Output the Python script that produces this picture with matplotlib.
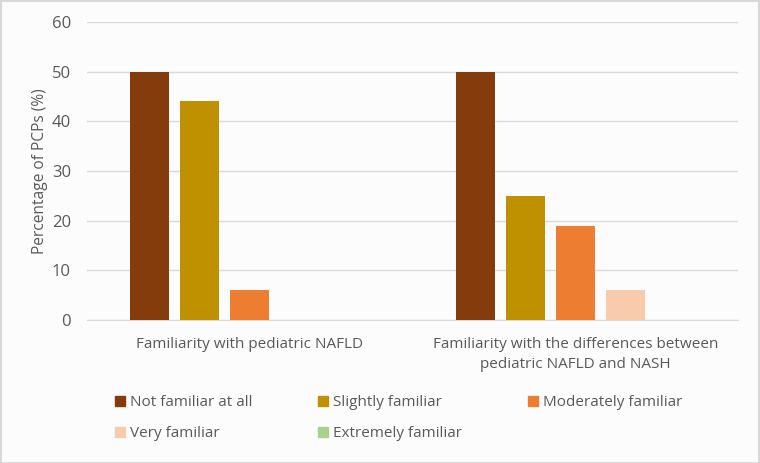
import matplotlib
matplotlib.use("Agg")
import matplotlib.pyplot as plt
import numpy as np
from matplotlib.patches import Patch

# data
categories = ["Familiarity with pediatric NAFLD",
              "Familiarity with the differences between\npediatric NAFLD and NASH"]
levels = ["Not familiar at all", "Slightly familiar", "Moderately familiar",
          "Very familiar", "Extremely familiar"]
not_familiar = [50, 50]
slightly = [44, 25]
moderately = [6, 19]
very = [0, 6]
extremely = [0, 0]
colors = ["#843C0C", "#BF9000", "#ED7D31", "#F8CBAD", "#A9D18E"]

series = [not_familiar, slightly, moderately, very, extremely]

plt.rcParams['font.family'] = ['Open Sans', 'DejaVu Sans']
txt = "#595959"

fig = plt.figure(figsize=(7.6, 4.63), dpi=100, facecolor="#FCFCFC")
ax = fig.add_axes([87 / 760, 1 - 320 / 463, 651 / 760, 298 / 463])
ax.set_facecolor("none")

x = np.arange(len(categories))
step = 50 / 325.5
width = 39 / 325.5
for i, (vals, c) in enumerate(zip(series, colors)):
    ax.bar(x + (i - 2) * step, vals, width, color=c, label=levels[i], zorder=3)

ax.set_xlim(-0.5, 1.5)
ax.set_ylim(0, 60)
ax.set_yticks(range(0, 61, 10))
ax.yaxis.grid(True, color="#D9D9D9", linewidth=1, zorder=0)
for s in ["top", "right", "left"]:
    ax.spines[s].set_visible(False)
ax.spines["bottom"].set_color("#D9D9D9")
ax.tick_params(axis="y", length=0, labelsize=12, labelcolor=txt, pad=11.5)
ax.tick_params(axis="x", length=0, labelsize=11, labelcolor=txt, pad=12)
ax.set_xticks(x)
ax.set_xticklabels(categories, linespacing=1.5)
ax.set_ylabel("Percentage of PCPs (%)", fontsize=11.2, color=txt, labelpad=3)

# legend, row-major order like the original
order = [0, 3, 1, 4, 2]
handles = [Patch(color=colors[i]) for i in order]
labels = [levels[i] for i in order]
fig.legend(handles, labels, loc="upper left", bbox_to_anchor=(115 / 760, 1 - 395 / 463),
           ncol=3, frameon=False, fontsize=11, labelcolor=txt,
           borderpad=0, borderaxespad=0,
           handlelength=0.65, handleheight=0.65, handletextpad=0.3,
           columnspacing=4.35, labelspacing=1.05)

fig.patches.append(plt.Rectangle((0.001, 0.001), 0.998, 0.997, transform=fig.transFigure,
                                 fill=False, edgecolor="#D9D9D9", linewidth=1.5))

fig.savefig("out.png", dpi=100, facecolor=fig.get_facecolor())
